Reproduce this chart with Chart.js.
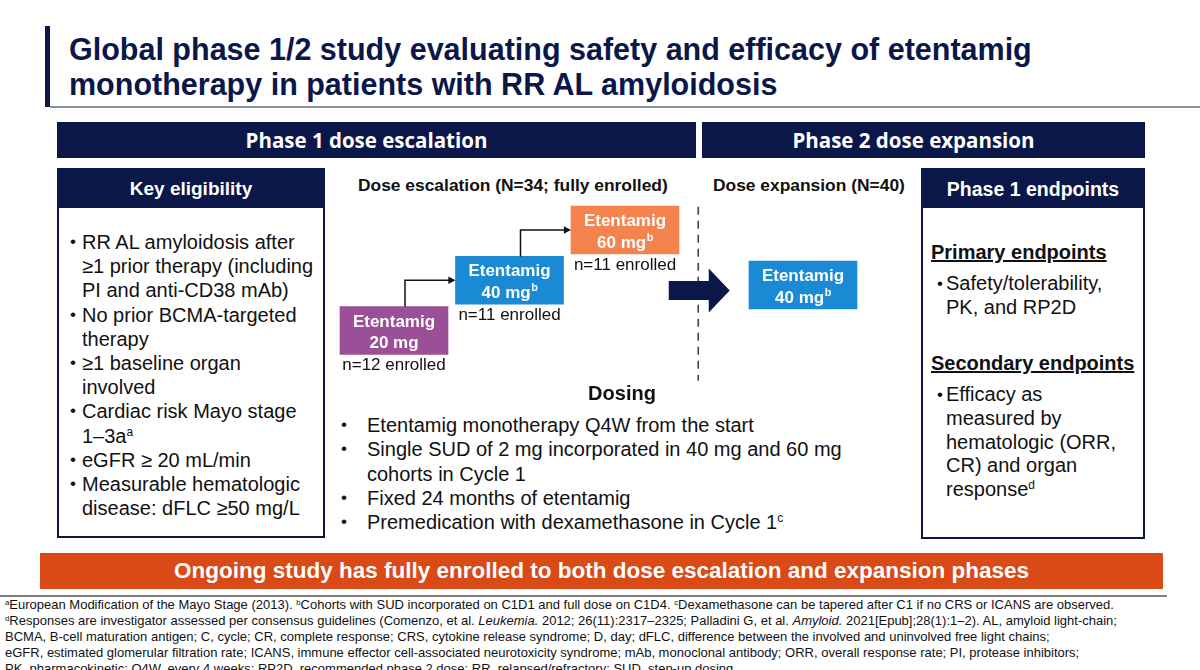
<!DOCTYPE html>
<html>
<head>
<meta charset="utf-8">
<script src="https://cdn.jsdelivr.net/npm/chart.js@4.4.1/dist/chart.umd.min.js"></script>
<style>
  body { margin: 0; width: 1200px; height: 670px; position: relative; background: #fff; overflow: hidden;
         font-family: 'Liberation Sans', Arial, sans-serif; color: #111; }
  .abs { position: absolute; }
  .navy { background: #0b1749; }
  .hdr { color: #fff; text-align: center; font: 700 20.5px/36px 'Open Sans', sans-serif; box-sizing: border-box; padding-right: 20px; }
  .box { border: 2px solid #0b1749; box-sizing: border-box; background: #fff; }
  .boxhdr { color: #fff; text-align: center; font: 700 19px/38px 'Liberation Sans', Arial, sans-serif; height: 38px; }
  .list { font-size: 20px; line-height: 24.2px; white-space: nowrap; }
  .li { display: flex; }
  .li .b { flex: none; font-size: 17px; }
  .el .b { width: 10px; margin-left: -2px; margin-right: 2px; }
  .ep .b { width: 9px; }
  .ds .b { width: 26px; }
  sup { font-size: 0.6em; line-height: 0; vertical-align: 0.55em; }
  .foot { font-size: 13px; line-height: 16px; white-space: nowrap; }
</style>
</head>
<body>

<!-- title -->
<div class="abs navy" style="left:45px;top:26px;width:5px;height:81px"></div>
<div class="abs" style="left:50px;top:106px;width:1150px;height:1.5px;background:#8a8f9c"></div>
<div class="abs" style="left:69px;top:32px;font:700 30.5px/35px 'Liberation Sans',Arial,sans-serif;color:#0b1749;white-space:nowrap">
  Global phase 1/2 study evaluating safety and efficacy of etentamig<br>monotherapy in patients with RR AL amyloidosis
</div>

<!-- phase headers -->
<div class="abs navy hdr" style="left:57px;top:122px;width:639px;height:36px">Phase 1 dose escalation</div>
<div class="abs navy hdr" style="left:702px;top:122px;width:443px;height:36px">Phase 2 dose expansion</div>

<!-- key eligibility -->
<div class="abs box" style="left:57px;top:168px;width:268px;height:370px">
  <div class="navy boxhdr">Key eligibility</div>
</div>
<div class="abs list el" style="left:72px;top:230px">
  <div class="li"><span class="b">•</span><span>RR AL amyloidosis after<br>≥1 prior therapy (including<br>PI and anti-CD38 mAb)</span></div>
  <div class="li"><span class="b">•</span><span>No prior BCMA-targeted<br>therapy</span></div>
  <div class="li"><span class="b">•</span><span>≥1 baseline organ<br>involved</span></div>
  <div class="li"><span class="b">•</span><span>Cardiac risk Mayo stage<br>1–3a<sup>a</sup></span></div>
  <div class="li"><span class="b">•</span><span>eGFR ≥ 20 mL/min</span></div>
  <div class="li"><span class="b">•</span><span>Measurable hematologic<br>disease: dFLC ≥50 mg/L</span></div>
</div>

<!-- phase 1 endpoints -->
<div class="abs box" style="left:921px;top:168px;width:224px;height:371px">
  <div class="navy boxhdr" style="font-size:19.5px">Phase 1 endpoints</div>
</div>
<div class="abs" style="left:931px;top:240px;font:700 20px/24px 'Liberation Sans',Arial,sans-serif;text-decoration:underline;white-space:nowrap">Primary endpoints</div>
<div class="abs list ep" style="left:937px;top:272px;line-height:23.5px">
  <div class="li"><span class="b">•</span><span>Safety/tolerability,<br>PK, and RP2D</span></div>
</div>
<div class="abs" style="left:931px;top:351px;font:700 20px/24px 'Liberation Sans',Arial,sans-serif;text-decoration:underline;white-space:nowrap">Secondary endpoints</div>
<div class="abs list ep" style="left:937px;top:383px;line-height:23.8px">
  <div class="li"><span class="b">•</span><span>Efficacy as<br>measured by<br>hematologic (ORR,<br>CR) and organ<br>response<sup>d</sup></span></div>
</div>

<!-- dose schema -->
<div class="abs" style="left:358px;top:175px;font:700 17.4px/20px 'Liberation Sans',Arial,sans-serif;white-space:nowrap">Dose escalation (N=34; fully enrolled)</div>
<div class="abs" style="left:713px;top:175px;font:700 17.4px/20px 'Liberation Sans',Arial,sans-serif;white-space:nowrap">Dose expansion (N=40)</div>
<canvas id="escalation" class="abs" width="430" height="230" style="left:330px;top:170px"></canvas>
<canvas id="expansion" class="abs" width="126" height="210" style="left:740px;top:180px"></canvas>

<!-- dosing -->
<div class="abs" style="left:522px;top:381px;width:200px;text-align:center;font:700 20px/24px 'Liberation Sans',Arial,sans-serif">Dosing</div>
<div class="abs list ds" style="left:341px;top:413px;line-height:24.3px">
  <div class="li"><span class="b">•</span><span>Etentamig monotherapy Q4W from the start</span></div>
  <div class="li"><span class="b">•</span><span>Single SUD of 2 mg incorporated in 40 mg and 60 mg<br>cohorts in Cycle 1</span></div>
  <div class="li"><span class="b">•</span><span>Fixed 24 months of etentamig</span></div>
  <div class="li"><span class="b">•</span><span>Premedication with dexamethasone in Cycle 1<sup>c</sup></span></div>
</div>

<!-- banner -->
<div class="abs" style="left:40px;top:553px;width:1123px;height:36px;background:#d94a16;color:#fff;text-align:center;font:700 22.5px/36px 'Liberation Sans',Arial,sans-serif">Ongoing study has fully enrolled to both dose escalation and expansion phases</div>
<div class="abs" style="left:0;top:595px;width:1167px;height:1.5px;background:#7d7d7d"></div>

<!-- footnotes -->
<div class="abs foot" style="left:5px;top:597px">
  <sup>a</sup>European Modification of the Mayo Stage (2013). <sup>b</sup>Cohorts with SUD incorporated on C1D1 and full dose on C1D4. <sup>c</sup>Dexamethasone can be tapered after C1 if no CRS or ICANS are observed.<br>
  <sup>d</sup>Responses are investigator assessed per consensus guidelines (Comenzo, et al. <i>Leukemia.</i> 2012; 26(11):2317–2325; Palladini G, et al. <i>Amyloid.</i> 2021[Epub];28(1):1–2). AL, amyloid light-chain;<br>
  BCMA, B-cell maturation antigen; C, cycle; CR, complete response; CRS, cytokine release syndrome; D, day; dFLC, difference between the involved and uninvolved free light chains;<br>
  eGFR, estimated glomerular filtration rate; ICANS, immune effector cell-associated neurotoxicity syndrome; mAb, monoclonal antibody; ORR, overall response rate; PI, protease inhibitors;<br>
  PK, pharmacokinetic; Q4W, every 4 weeks; RP2D, recommended phase 2 dose; RR, relapsed/refractory; SUD, step-up dosing
</div>

<script>
// dose escalation cohorts (phase 1)
const escalationCohorts = ['20 mg', '40 mg', '60 mg'];
const escalationDoseMg = [20, 40, 60];
const escalationEnrolled = [12, 11, 11];
const escalationSup = ['', 'b', 'b'];
// dose expansion cohort (phase 2)
const expansionCohorts = ['40 mg'];
const expansionDoseMg = [40];
const expansionSup = ['b'];

const drugName = 'Etentamig';
const NAVY = '#0b1749';
const escalationColors = ['#9b4f97', '#1a8ad4', '#f5834f'];
const expansionColors = ['#1a8ad4'];
const BOX_HALF_MG = 9.5;   // half height of a cohort box, in mg units
const FONT = "'Liberation Sans', Arial, sans-serif";

function drawBoxLabel(ctx, bar, label, sup) {
  const cy = (bar.y + bar.base) / 2;
  ctx.fillStyle = '#fff';
  ctx.textBaseline = 'alphabetic';
  ctx.font = 'bold 17px ' + FONT;
  ctx.textAlign = 'center';
  ctx.fillText(drugName, bar.x, cy - 4);
  const w1 = ctx.measureText(label).width;
  ctx.font = 'bold 11px ' + FONT;
  const w2 = sup ? ctx.measureText(sup).width : 0;
  const x0 = bar.x - (w1 + w2) / 2;
  ctx.textAlign = 'left';
  ctx.font = 'bold 17px ' + FONT;
  ctx.fillText(label, x0, cy + 17.5);
  if (sup) {
    ctx.font = 'bold 11px ' + FONT;
    ctx.fillText(sup, x0 + w1 + 0.5, cy + 10.5);
  }
}

function arrowHead(ctx, x, y, size) {
  ctx.beginPath();
  ctx.moveTo(x, y);
  ctx.lineTo(x - size * 1.3, y - size * 0.7);
  ctx.lineTo(x - size * 1.3, y + size * 0.7);
  ctx.closePath();
  ctx.fill();
}

const escalationLabels = {
  id: 'escalationLabels',
  afterDatasetsDraw(chart) {
    const ctx = chart.ctx;
    const bars = chart.getDatasetMeta(0).data;
    const area = chart.chartArea;
    ctx.save();
    // step-up connectors between cohorts
    ctx.strokeStyle = '#111';
    ctx.fillStyle = '#111';
    ctx.lineWidth = 1.5;
    for (let i = 0; i < bars.length - 1; i++) {
      const a = bars[i], b = bars[i + 1];
      const sx = a.x + 11;
      const ty = (b.y + b.base) / 2;
      const ex = b.x - b.width / 2;
      ctx.beginPath();
      ctx.moveTo(sx, a.y);
      ctx.lineTo(sx, ty);
      ctx.lineTo(ex - 6, ty);
      ctx.stroke();
      arrowHead(ctx, ex, ty, 5.5);
    }
    // text in and under boxes
    bars.forEach((bar, i) => {
      drawBoxLabel(ctx, bar, escalationCohorts[i], escalationSup[i]);
      ctx.fillStyle = '#111';
      ctx.font = '17px ' + FONT;
      ctx.textAlign = 'center';
      ctx.fillText('n=' + escalationEnrolled[i] + ' enrolled', bar.x, bar.base + 16);
    });
    // phase divider
    const dx = area.right + 15.5;
    ctx.strokeStyle = '#444';
    ctx.lineWidth = 1.6;
    ctx.setLineDash([8, 6]);
    ctx.beginPath();
    ctx.moveTo(dx, area.top + 27);
    ctx.lineTo(dx, area.bottom);
    ctx.stroke();
    ctx.setLineDash([]);
    // transition arrow to phase 2
    const ax = area.right - 14, ay = bars[1].y + 34;
    ctx.fillStyle = NAVY;
    ctx.beginPath();
    ctx.moveTo(ax, ay - 9.5);
    ctx.lineTo(ax + 40, ay - 9.5);
    ctx.lineTo(ax + 40, ay - 22);
    ctx.lineTo(ax + 61, ay);
    ctx.lineTo(ax + 40, ay + 22);
    ctx.lineTo(ax + 40, ay + 9.5);
    ctx.lineTo(ax, ay + 9.5);
    ctx.closePath();
    ctx.fill();
    ctx.restore();
  }
};

const expansionLabels = {
  id: 'expansionLabels',
  afterDatasetsDraw(chart) {
    const ctx = chart.ctx;
    ctx.save();
    chart.getDatasetMeta(0).data.forEach((bar, i) => {
      drawBoxLabel(ctx, bar, expansionCohorts[i], expansionSup[i]);
    });
    ctx.restore();
  }
};

function cohortChart(id, labels, doses, colors, padding, plugin) {
  return new Chart(document.getElementById(id), {
    type: 'bar',
    data: {
      labels: labels,
      datasets: [{
        data: doses.map(d => [d - BOX_HALF_MG, d + BOX_HALF_MG]),
        backgroundColor: colors,
        borderWidth: 0,
        borderSkipped: false,
        barThickness: 108,
      }],
    },
    options: {
      responsive: false,
      animation: false,
      layout: { padding: padding },
      plugins: { legend: { display: false }, tooltip: { enabled: false } },
      scales: {
        x: { display: false, offset: true },
        y: { display: false, min: 0, max: 80 },
      },
    },
    plugins: [plugin],
  });
}

cohortChart('escalation', escalationCohorts, escalationDoseMg, escalationColors,
  { left: 6.25, right: 77.25, top: 9.75, bottom: 19.25 }, escalationLabels);
cohortChart('expansion', expansionCohorts, expansionDoseMg, expansionColors,
  { left: 0, right: 0, top: 4.5, bottom: 4.5 }, expansionLabels);
</script>
</body>
</html>
